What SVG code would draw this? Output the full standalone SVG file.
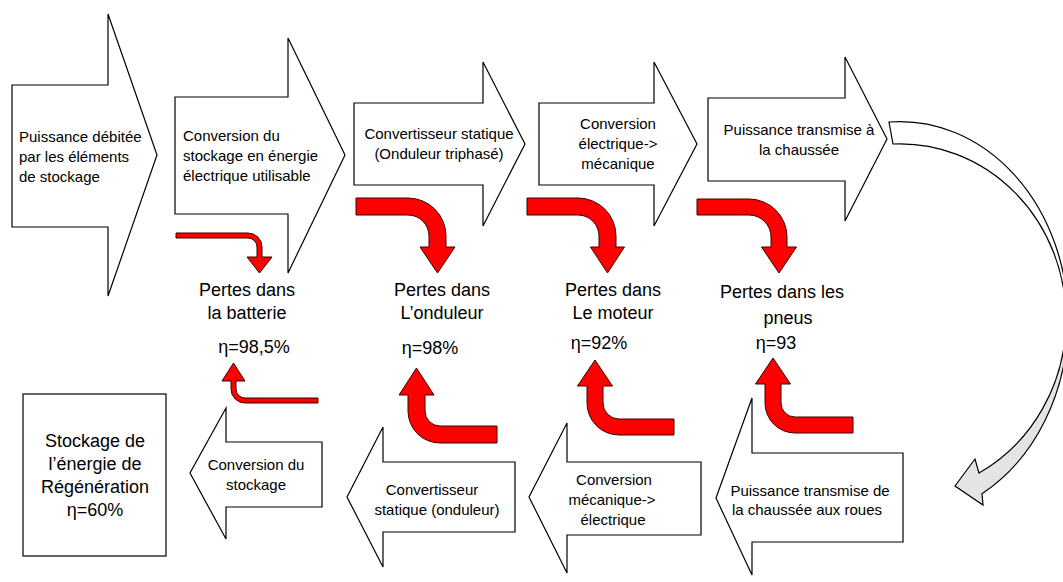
<svg xmlns="http://www.w3.org/2000/svg" width="1063" height="582" viewBox="0 0 1063 582">
<style>
.blk{fill:#fff;stroke:#000;stroke-width:1.2;stroke-linejoin:miter}
.red{fill:#ff0000;stroke:#3a0000;stroke-width:1}
.t{font-family:"Liberation Sans",Arial,sans-serif;font-size:15px;fill:#000}
.c{text-anchor:middle}
.l{font-family:"Liberation Sans",Arial,sans-serif;font-size:18px;fill:#000;text-anchor:middle}
</style>
<defs>
<linearGradient id="cg" gradientUnits="userSpaceOnUse" x1="0" y1="0" x2="0" y2="582">
<stop offset="0" stop-color="#fff"/><stop offset="0.55" stop-color="#fff"/><stop offset="0.55" stop-color="#e4e4e4"/><stop offset="1" stop-color="#e4e4e4"/>
</linearGradient>
</defs>
<rect width="1063" height="582" fill="#fff"/>

<g id="n1"><path class="blk" d="M12,85 H108 V14 L157,155 L108,296 V227 H12 Z"/>
<text class="t" x="19" y="142">Puissance débitée</text><text class="t" x="19" y="162">par les éléments</text><text class="t" x="19" y="182">de stockage</text></g>
<g id="n2"><path class="blk" d="M175,97 H288 V38 L345,155 L288,273 V214 H175 Z"/>
<text class="t" x="183" y="141">Conversion du</text><text class="t" x="183" y="161">stockage en énergie</text><text class="t" x="183" y="181">électrique utilisable</text></g>
<g id="n3"><path class="blk" d="M354,103 H483 V62 L525,144 L483,226 V185 H354 Z"/>
<text class="t c" x="439" y="139">Convertisseur statique</text><text class="t c" x="439" y="159">(Onduleur triphasé)</text></g>
<g id="n4"><path class="blk" d="M539,103 H654 V62 L697,144 L654,226 V185 H539 Z"/>
<text class="t c" x="618" y="129">Conversion</text><text class="t c" x="618" y="149">électrique-&gt;</text><text class="t c" x="618" y="169">mécanique</text></g>
<g id="n5"><path class="blk" d="M708,98 H845 V57 L887,139 L845,221 V181 H708 Z"/>
<text class="t c" x="799" y="135">Puissance transmise à</text><text class="t c" x="799" y="155">la chaussée</text></g>

<g id="n6"><path class="blk" d="M903,453 H752 V398 L716,498 L752,575 V542 H903 Z"/>
<text class="t c" x="810" y="496">Puissance transmise de</text><text class="t c" x="807" y="515">la chaussée aux roues</text></g>
<g id="n7"><path class="blk" d="M701,462 H567 V423 L529,497 L567,573 V535 H701 Z"/>
<text class="t c" x="614" y="485">Conversion</text><text class="t c" x="612" y="505">mécanique-&gt;</text><text class="t c" x="613" y="525">électrique</text></g>
<g id="n8"><path class="blk" d="M515,462 H383 V427 L347,497 L383,567 V532 H515 Z"/>
<text class="t c" x="432" y="495">Convertisseur</text><text class="t c" x="437" y="515">statique (onduleur)</text></g>
<g id="n9"><path class="blk" d="M322,442 H226 V408 L190,473 L226,539 V507 H322 Z"/>
<text class="t c" x="256" y="470">Conversion du</text><text class="t c" x="256" y="490">stockage</text></g>
<g id="n10"><rect class="blk" x="23" y="394" width="143" height="162"/>
<text class="l" x="95" y="447">Stockage de</text><text class="l" x="95" y="470">l’énergie de</text><text class="l" x="95" y="493">Régénération</text><text class="l" x="95" y="516">η=60%</text></g>

<g id="loss1"><text class="l" x="247" y="296">Pertes dans</text><text class="l" x="247" y="319">la batterie</text><text class="l" x="254" y="353">η=98,5%</text></g>
<g id="loss2"><text class="l" x="442" y="296">Pertes dans</text><text class="l" x="442" y="319">L’onduleur</text><text class="l" x="430" y="354">η=98%</text></g>
<g id="loss3"><text class="l" x="613" y="296">Pertes dans</text><text class="l" x="613" y="319">Le moteur</text><text class="l" x="599" y="349">η=92%</text></g>
<g id="loss4"><text class="l" x="782" y="298">Pertes dans les</text><text class="l" x="788" y="324">pneus</text><text class="l" x="776" y="349">η=93</text></g>

<g id="connectors">
<path class="red" d="M176,233 H248 A14 14 0 0 1 262,247 V257 H272 L259.5,273 L247,257 H257 V247 A9 9 0 0 0 248,238 H176 Z"/>
<path class="red" d="M356,198 H408 A38 38 0 0 1 446,236 V247 H455 L437.5,273 L420,247 H429 V236 A21 21 0 0 0 408,215 H356 Z"/>
<path class="red" d="M527,198 H578 A38 38 0 0 1 616,236 V247 H624.5 L607.5,273 L590.5,247 H599 V236 A21 21 0 0 0 578,215 H527 Z"/>
<path class="red" d="M697,199 H749 A38 38 0 0 1 787,237 V247 H796.5 L779,273 L761.5,247 H771 V237 A22 22 0 0 0 749,215 H697 Z"/>
<path class="red" d="M318,403 H245 A14 14 0 0 1 231,389 V381 H222 L233.5,363 L245,381 H236 V389 A9 9 0 0 0 245,398 H318 Z"/>
<path class="red" d="M497,443 H440 A32 32 0 0 1 408,411 V395 H399 L416.5,368 L434,395 H425 V411 A15 15 0 0 0 440,426 H497 Z"/>
<path class="red" d="M674,435 H619 A32 32 0 0 1 587,403 V386 H577.5 L595,360 L612.5,386 H603 V403 A16 16 0 0 0 619,419 H674 Z"/>
<path class="red" d="M853,433 H795 A30 30 0 0 1 765,403 V384 H755.5 L773,358 L790.5,384 H781 V403 A14 14 0 0 0 795,417 H853 Z"/>
<path fill="url(#cg)" stroke="#000" stroke-width="1.2" d="M889,122 A168 199 0 0 1 1068,320 A168 199 0 0 1 982,493.7 L983,505 L955,486 L975,459 L979,473 A166 175 0 0 0 1066,319 A166 175 0 0 0 893,144 Z"/>
</g>
</svg>
